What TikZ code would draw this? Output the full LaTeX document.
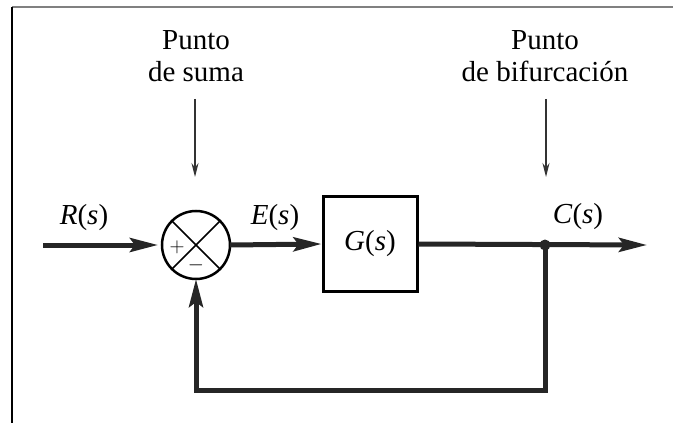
\documentclass[tikz,border=0pt]{standalone}
\usepackage{fontspec}
\setmainfont{Liberation Serif}
\usetikzlibrary{arrows.meta}

\begin{document}
\begin{tikzpicture}[x=1pt, y=-1pt,
    signal/.style={line width=5pt, draw=black!85},
    tip/.style={-{Stealth[length=28pt, width=14pt, inset=5pt]}},
    pointer/.style={line width=1.3pt, draw=black!80, -{Stealth[length=14pt, width=7pt]}},
    label/.style={font=\fontsize{29}{32}\selectfont, align=center, inner sep=0pt},
    sign/.style={font=\fontsize{22}{24}\selectfont, inner sep=0pt}]
    \useasboundingbox (0,0) rectangle (673,423);

    % 边框
    \draw[gray, line width=1.5pt] (12,7) -- (673,7);
    \draw[black, line width=1.5pt] (12,7) -- (12,423);

    % 求和点
    \node[circle, draw, line width=2.5pt, minimum size=68pt, inner sep=0pt, outer sep=0pt] (sum) at (196,245) {};
    \draw[line width=1.5pt] (sum.north west) -- (sum.south east);
    \draw[line width=1.5pt] (sum.north east) -- (sum.south west);
    \node[sign] (plus) at (177,247) {$+$};
    \node[sign] (minus) at (196,265) {$-$};

    % 方块
    \node[draw, line width=3pt, minimum width=94pt, minimum height=95pt, label] (plant) at (370,244) {\textit{G}(\textit{s})};

    % 信号线
    \coordinate (in) at (43,245);
    \coordinate (branch) at (545,245);
    \coordinate (out) at (647,245);
    \coordinate (fb) at (545,390);
    \draw[signal, tip, shorten >=4pt] (in) -- (sum.west);
    \draw[signal, tip] (sum.east) -- (plant.west);
    \draw[signal, tip] (plant.east) -- (out);
    \draw[signal, tip] (branch) -- (fb) -| (sum.south);
    \fill[black!85] (branch) circle (5.5pt);

    % 标注
    \node[label] (rlab) at (84,218) {\textit{R}(\textit{s})};
    \node[label] (elab) at (275,218) {\textit{E}(\textit{s})};
    \node[label] (clab) at (578,217) {\textit{C}(\textit{s})};

    % 说明文字
    \node[label] (sumlab) at (196,56) {Punto\\de suma};
    \node[label] (bflab) at (545,56) {Punto\\de bifurcación};
    \coordinate (sumpt) at (195,177);
    \coordinate (bfpt) at (546,177);
    \draw[pointer] (sumlab.south -| sumpt) ++(0,17) -- (sumpt);
    \draw[pointer] (bflab.south -| bfpt) ++(0,17) -- (bfpt);
\end{tikzpicture}
\end{document}
